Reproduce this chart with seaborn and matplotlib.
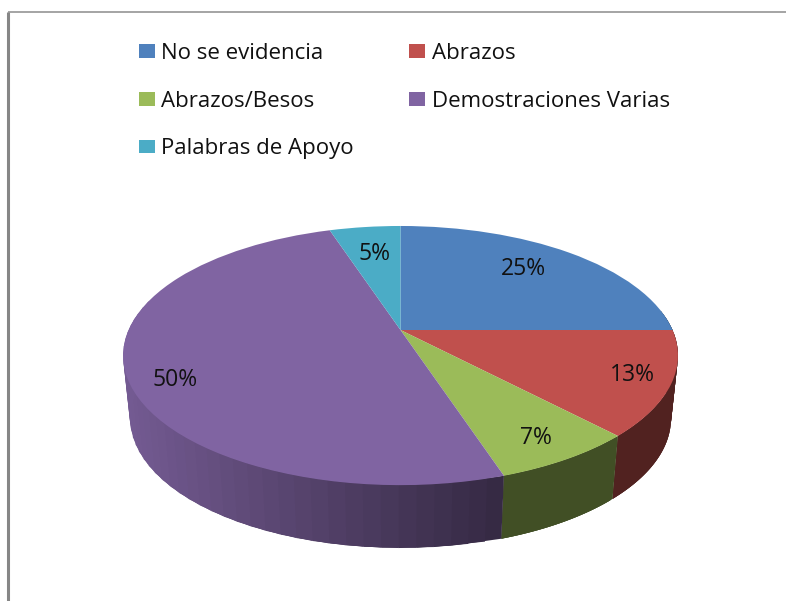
import numpy as np
import matplotlib
matplotlib.use('Agg')
import matplotlib.pyplot as plt
from matplotlib.transforms import Transform
import seaborn as sns

## Data
labels = ['No se evidencia', 'Abrazos', 'Abrazos/Besos', 'Demostraciones Varias', 'Palabras de Apoyo']
values = [25, 13, 7, 50, 5]
colors = ['#4F81BD', '#C0504D', '#9BBB59', '#8064A2', '#4BACC6']

## Layout, in pixels of the 786x601 picture
label_x = [523, 632, 536, 175, 375]
label_y = [269, 375, 438, 380, 254]
apex_x, apex_y = 400.5, 330
scale_x = 272
persp_a, persp_c = -59.5, 0.197
rim_depth = 63
rim_shrink = 0.975


def to_pixels(u, v):
    # unit circle of the pie -> tilted disc on the page
    d = persp_c * v + 1
    return apex_x + scale_x * u / d, (persp_a * v + apex_y) / d


class TiltTransform(Transform):
    input_dims = 2
    output_dims = 2

    def transform_non_affine(self, values):
        values = np.asarray(values)
        x, y = to_pixels(values[:, 0], values[:, 1])
        return np.column_stack([x, y])


sns.set_theme(style='white')
plt.rcParams['font.family'] = ['Open Sans', 'DejaVu Sans']
palette = sns.color_palette(colors)

fig = plt.figure(figsize=(7.86, 6.01), dpi=100, facecolor='white')
ax = fig.add_axes([0, 0, 1, 1])

## Top of the pie
wedges, texts, pcts = ax.pie(values, colors=palette, startangle=90, counterclock=False,
                             autopct='%.0f%%', wedgeprops={'linewidth': 0},
                             textprops={'fontsize': 16.5, 'color': '#111111'})
tilt = TiltTransform()
for w in wedges:
    w.set_transform(tilt + ax.transData)
    w.set_zorder(3)
for t, x, y in zip(pcts, label_x, label_y):
    t.set_position((x, y))
    t.set_zorder(4)

## Side wall, darker towards the right
## each strip runs under the next one so no seams show between them
edges = np.cumsum([0] + values) / sum(values) * 2 * np.pi
for i, col in enumerate(palette):
    th = np.linspace(edges[i], edges[i + 1], 60)
    for k in range(len(th) - 1):
        a = th[k]
        b = th[min(k + 3, len(th) - 1)]
        if np.cos(a) > 0.1 and np.cos(b) > 0.1:
            continue
        x0, y0 = to_pixels(np.sin([a, b]), np.cos([a, b]))
        x1 = apex_x + (x0 - apex_x) * rim_shrink
        y1 = y0 + rim_depth
        shade = np.interp(x0[0], [130, 504], [0.9, 0.42])
        c = tuple(np.array(col) * shade)
        ax.fill([x0[0], x0[1], x1[1], x1[0]], [y0[0], y0[1], y1[1], y1[0]],
                facecolor=c, edgecolor='none', linewidth=0, zorder=2)

## Chart border, only top and left are left in the crop
ax.plot([8, 8], [12, 601], color='#868686', lw=2.2, zorder=1, solid_capstyle='butt')
ax.plot([8, 786], [12, 12], color='#8c8c8c', lw=1.1, zorder=1, solid_capstyle='butt')

## Legend, filled row by row in the picture
order = [0, 2, 4, 1, 3]
ax.legend([wedges[i] for i in order], [labels[i] for i in order], ncol=2, frameon=False,
          loc='upper left', bbox_to_anchor=(139, 43), bbox_transform=ax.transData,
          fontsize=16, borderpad=0, borderaxespad=0, handlelength=0.72, handleheight=0.55,
          handletextpad=0.28, labelspacing=1.2, columnspacing=2.5, labelcolor='#111111')

ax.set_xlim(0, 786)
ax.set_ylim(601, 0)
ax.set_aspect('auto')
ax.axis('off')
fig.savefig('out.png', dpi=100, facecolor='white')
